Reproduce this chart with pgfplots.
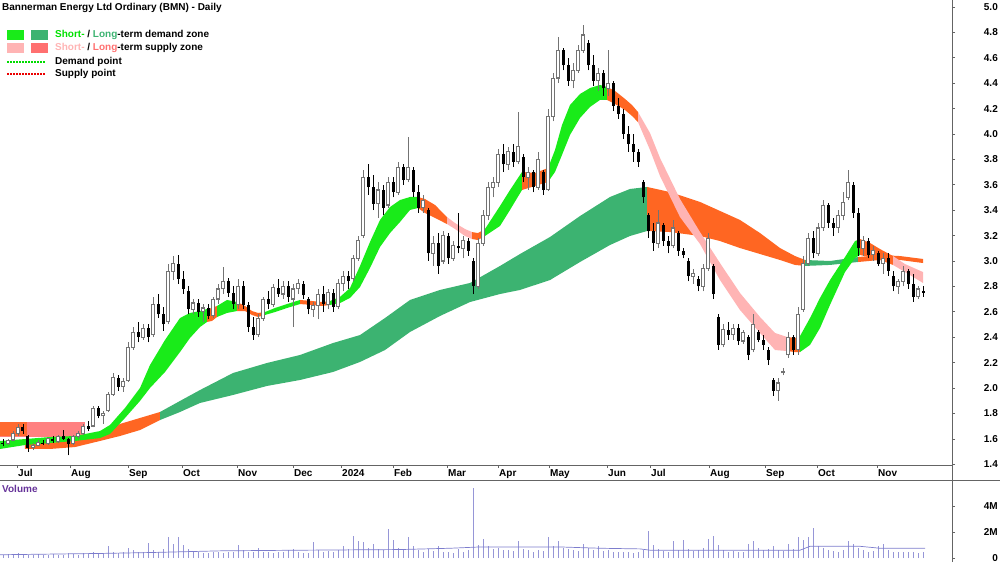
\documentclass[border=0pt]{standalone}
\usepackage{pgfplots}
\pgfplotsset{compat=1.18}
\usepackage{pgfplotstable}
\usepackage{fontspec}
\setmainfont{Liberation Sans}
\definecolor{sdem}{RGB}{25,235,25}
\definecolor{sdemtxt}{RGB}{0,225,0}
\definecolor{ldem}{RGB}{60,179,113}
\definecolor{ssup}{RGB}{255,180,180}
\definecolor{lsup}{RGB}{255,112,112}
\definecolor{salm}{RGB}{255,128,128}
\definecolor{orng}{RGB}{255,102,34}
\definecolor{axgray}{RGB}{100,100,100}
\definecolor{wick}{RGB}{115,115,115}
\definecolor{volcol}{RGB}{150,150,215}
\definecolor{volavg}{RGB}{125,125,205}
\definecolor{volpurple}{RGB}{102,51,153}
\definecolor{dempt}{RGB}{0,220,0}
\definecolor{suppt}{RGB}{235,0,0}

\pgfplotstableread{
x o h l c v
3 1.57 1.60 1.54 1.56 0.25
8 1.56 1.60 1.55 1.59 0.30
13 1.59 1.66 1.58 1.64 0.20
18 1.64 1.72 1.62 1.69 0.35
23 1.69 1.72 1.64 1.66 0.30
28 1.62 1.63 1.50 1.53 0.25
33 1.53 1.57 1.51 1.55 0.20
38 1.55 1.59 1.54 1.57 0.30
43 1.57 1.59 1.55 1.56 0.25
48 1.56 1.61 1.55 1.60 0.20
53 1.60 1.62 1.57 1.58 0.30
58 1.58 1.63 1.57 1.62 0.25
63 1.62 1.67 1.59 1.60 0.20
68 1.60 1.61 1.47 1.56 0.35
73 1.56 1.63 1.55 1.62 0.30
78 1.62 1.66 1.60 1.64 0.25
83 1.64 1.72 1.63 1.70 0.40
88 1.70 1.74 1.66 1.68 0.30
93 1.70 1.86 1.69 1.84 0.50
98 1.84 1.86 1.76 1.78 0.35
103 1.78 1.82 1.72 1.80 0.40
108 1.82 1.97 1.81 1.95 0.90
113 1.95 2.12 1.94 2.08 0.50
118 2.08 2.10 1.98 2.01 0.40
123 2.01 2.08 1.97 2.05 0.45
128 2.06 2.36 2.05 2.32 0.80
133 2.32 2.48 2.30 2.44 0.60
138 2.44 2.52 2.36 2.40 0.50
143 2.40 2.50 2.38 2.47 0.45
148 2.47 2.50 2.36 2.40 1.15
153 2.42 2.72 2.40 2.66 0.60
158 2.66 2.74 2.55 2.58 0.50
163 2.58 2.64 2.45 2.50 0.70
168 2.52 2.98 2.50 2.92 1.60
173 2.92 3.04 2.85 2.98 1.10
178 2.98 3.05 2.82 2.86 1.60
183 2.86 2.92 2.74 2.78 1.00
188 2.76 2.80 2.58 2.62 0.70
193 2.62 2.70 2.58 2.67 0.50
198 2.67 2.70 2.56 2.60 0.45
203 2.60 2.66 2.52 2.63 0.40
208 2.63 2.66 2.54 2.57 0.35
213 2.57 2.72 2.55 2.70 0.50
218 2.70 2.82 2.66 2.78 0.45
223 2.78 2.95 2.74 2.84 0.40
228 2.84 2.87 2.72 2.75 0.50
233 2.75 2.80 2.62 2.66 0.45
238 2.66 2.86 2.62 2.80 1.00
243 2.80 2.84 2.62 2.65 0.60
248 2.65 2.68 2.44 2.48 0.50
253 2.48 2.56 2.38 2.42 0.45
258 2.42 2.58 2.40 2.55 0.75
263 2.55 2.72 2.53 2.70 0.50
268 2.70 2.76 2.62 2.66 0.45
273 2.66 2.82 2.64 2.79 0.40
278 2.79 2.86 2.72 2.74 0.50
283 2.74 2.84 2.70 2.80 0.45
288 2.80 2.84 2.68 2.72 0.60
293 2.70 2.82 2.48 2.78 0.70
298 2.78 2.86 2.74 2.82 0.50
303 2.82 2.84 2.70 2.73 0.40
308 2.70 2.72 2.58 2.62 0.35
313 2.62 2.68 2.56 2.65 1.20
318 2.65 2.78 2.54 2.74 0.60
323 2.74 2.80 2.60 2.66 0.50
328 2.66 2.78 2.62 2.75 0.55
333 2.75 2.78 2.60 2.64 0.45
338 2.64 2.86 2.62 2.82 0.60
343 2.82 2.92 2.76 2.88 0.90
348 2.88 2.92 2.78 2.84 0.70
353 2.86 3.05 2.84 3.02 1.70
358 3.02 3.20 3.00 3.16 1.30
363 3.20 3.72 3.18 3.66 1.20
368 3.66 3.76 3.52 3.58 0.80
373 3.58 3.68 3.40 3.45 1.10
378 3.45 3.62 3.34 3.56 0.70
383 3.56 3.60 3.36 3.42 0.60
388 3.44 3.66 3.42 3.62 2.20
393 3.62 3.66 3.50 3.54 1.40
398 3.54 3.78 3.52 3.74 0.80
403 3.74 3.76 3.60 3.64 0.60
408 3.64 3.98 3.62 3.74 1.60
413 3.72 3.74 3.50 3.54 0.90
418 3.54 3.60 3.38 3.42 0.60
423 3.42 3.52 3.38 3.48 0.50
428 3.40 3.42 3.00 3.06 0.70
433 3.06 3.20 2.96 3.14 0.55
438 3.14 3.22 2.90 2.96 0.90
443 3.00 3.24 2.98 3.20 0.50
448 3.20 3.22 2.98 3.02 0.45
453 3.02 3.16 3.00 3.12 0.40
458 3.12 3.38 3.06 3.10 0.70
463 3.10 3.20 3.02 3.16 0.50
468 3.16 3.18 3.04 3.08 0.60
473 3.00 3.02 2.74 2.80 5.40
478 2.80 3.18 2.78 3.14 1.00
483 3.14 3.40 3.12 3.36 1.45
488 3.36 3.62 3.32 3.58 0.90
493 3.58 3.66 3.50 3.62 0.70
498 3.62 3.88 3.58 3.84 0.80
503 3.84 3.92 3.70 3.76 0.60
508 3.76 3.90 3.72 3.86 0.65
513 3.86 3.92 3.74 3.78 0.55
518 3.78 4.17 3.76 3.90 1.30
523 3.82 3.84 3.62 3.66 0.70
528 3.66 3.74 3.56 3.70 0.60
533 3.70 3.72 3.54 3.58 0.50
538 3.58 3.86 3.56 3.80 0.65
543 3.70 3.72 3.52 3.56 0.55
548 3.56 4.20 3.55 4.14 1.60
553 4.14 4.48 4.10 4.44 0.90
558 4.44 4.76 4.40 4.66 1.30
563 4.66 4.68 4.50 4.54 0.80
568 4.54 4.60 4.38 4.42 0.70
573 4.42 4.56 4.36 4.50 0.60
578 4.50 4.70 4.48 4.66 0.55
583 4.66 4.86 4.64 4.78 1.10
588 4.72 4.74 4.50 4.54 0.80
593 4.54 4.62 4.38 4.42 0.60
598 4.42 4.52 4.34 4.48 0.90
603 4.48 4.50 4.30 4.36 0.55
608 4.36 4.66 4.30 4.40 0.60
613 4.40 4.42 4.18 4.22 0.50
618 4.22 4.28 4.12 4.16 0.45
623 4.16 4.20 3.96 4.00 0.50
628 4.00 4.06 3.86 3.92 0.45
633 3.92 4.00 3.78 3.86 0.40
638 3.86 3.88 3.74 3.78 0.50
643 3.62 3.64 3.46 3.50 0.60
648 3.36 3.38 3.18 3.24 2.10
653 3.24 3.30 3.08 3.14 1.00
658 3.14 3.40 3.10 3.30 0.70
663 3.28 3.30 3.12 3.16 0.55
668 3.16 3.20 3.06 3.12 0.50
673 3.12 3.32 3.10 3.26 1.30
678 3.22 3.24 3.04 3.08 0.60
683 3.08 3.10 3.02 3.05 1.40
688 3.00 3.02 2.84 2.88 0.70
693 2.88 2.94 2.82 2.90 0.55
698 2.86 2.88 2.76 2.80 0.60
703 2.80 2.98 2.76 2.94 0.80
708 2.94 3.22 2.92 3.18 1.50
713 2.96 2.98 2.70 2.74 1.70
718 2.56 2.58 2.30 2.34 1.00
723 2.34 2.50 2.32 2.46 0.60
728 2.46 2.52 2.38 2.42 0.50
733 2.42 2.50 2.38 2.47 0.55
738 2.47 2.50 2.34 2.37 0.45
743 2.37 2.46 2.35 2.44 0.50
748 2.40 2.42 2.22 2.26 1.10
753 2.30 2.58 2.28 2.50 1.30
758 2.44 2.46 2.36 2.38 0.80
763 2.38 2.42 2.30 2.34 0.60
768 2.30 2.32 2.18 2.22 0.70
773 2.06 2.08 1.94 1.98 0.90
778 1.98 2.08 1.90 2.04 0.60
783 2.12 2.16 2.10 2.13 0.55
788 2.26 2.44 2.24 2.40 1.10
793 2.40 2.42 2.26 2.30 0.70
798 2.30 2.64 2.26 2.58 1.60
803 2.62 3.04 2.60 2.98 1.40
808 2.98 3.22 2.96 3.18 1.60
813 3.18 3.24 3.02 3.06 2.30
818 3.06 3.30 3.04 3.26 0.90
823 3.26 3.48 3.24 3.44 0.80
828 3.44 3.46 3.26 3.30 0.60
833 3.30 3.34 3.20 3.26 0.55
838 3.26 3.40 3.22 3.36 0.50
843 3.36 3.54 3.32 3.46 0.60
848 3.50 3.72 3.48 3.62 1.30
853 3.60 3.62 3.34 3.38 1.10
858 3.38 3.42 3.04 3.10 0.80
863 3.10 3.20 3.04 3.16 0.60
868 3.16 3.18 3.02 3.05 0.50
873 3.05 3.12 3.00 3.08 0.55
878 3.06 3.08 2.96 2.98 0.90
883 2.98 3.06 2.90 3.02 1.10
888 3.02 3.06 2.88 2.92 0.60
893 2.88 2.92 2.76 2.80 0.50
898 2.80 2.86 2.74 2.84 0.45
903 2.84 2.96 2.80 2.92 0.50
908 2.92 2.94 2.78 2.82 0.45
913 2.82 2.90 2.68 2.72 0.50
918 2.72 2.80 2.70 2.78 0.40
923 2.76 2.80 2.72 2.75 0.50
}\candles

\begin{document}
\begin{tikzpicture}[font=\bfseries\fontsize{10}{12}\selectfont]
\useasboundingbox (0,0) rectangle (1000pt,562pt);
\begin{axis}[
  at={(0pt,97pt)}, anchor=south west, scale only axis,
  width=952pt, height=465pt,
  xmin=0, xmax=952, ymin=1.3937, ymax=5.0551,
  axis y line*=right, axis x line*=bottom,
  axis line style={-, draw=axgray, line width=0.8pt},
  tick style={draw=axgray, line width=0.6pt},
  major tick length=3pt, tick align=outside,
  xtick={17,70,128,182,237,293,341,393,447,498,549,607,650,709,765,817,877},
  xticklabels={Jul,Aug,Sep,Oct,Nov,Dec,2024,Feb,Mar,Apr,May,Jun,Jul,Aug,Sep,Oct,Nov},
  xticklabel style={anchor=north west, inner sep=0pt, yshift=-1pt, xshift=1pt},
  ytick={1.4,1.6,1.8,2.0,2.2,2.4,2.6,2.8,3.0,3.2,3.4,3.6,3.8,4.0,4.2,4.4,4.6,4.8,5.0},
  yticklabels={1.4,1.6,1.8,2.0,2.2,2.4,2.6,2.8,3.0,3.2,3.4,3.6,3.8,4.0,4.2,4.4,4.6,4.8,5.0},
  yticklabel style={anchor=east, inner sep=0pt, xshift=43pt},
  every tick label/.append style={font=\bfseries\fontsize{10}{12}\selectfont},
]
% early supply block
\addplot[fill=salm, draw=none] coordinates {(0,1.732)(85,1.732)(85,1.614)(0,1.614)} -- cycle;
\addplot[fill=orng!85!salm, draw=none] coordinates {(0,1.732)(27,1.732)(27,1.622)(0,1.622)} -- cycle;
% long-term band
\addplot[fill=orng, draw=none] coordinates {(25,1.567)(50,1.567)(75,1.591)(100,1.646)(120,1.717)(140,1.764)(160,1.811)(160,1.748)(140,1.669)(120,1.622)(100,1.583)(75,1.535)(50,1.520)(25,1.520)} -- cycle;
\addplot[fill=ldem, draw=none] coordinates {(160,1.811)(180,1.898)(200,1.984)(233,2.118)(267,2.197)(300,2.260)(333,2.354)(360,2.417)(385,2.551)(410,2.693)(440,2.772)(470,2.827)(500,2.961)(520,3.055)(550,3.189)(580,3.354)(610,3.504)(630,3.567)(647,3.583)(647,3.236)(630,3.197)(610,3.126)(580,2.992)(550,2.850)(520,2.772)(500,2.740)(470,2.677)(440,2.567)(410,2.441)(385,2.299)(360,2.205)(333,2.126)(300,2.063)(267,2.016)(233,1.945)(200,1.882)(180,1.811)(160,1.748)} -- cycle;
\addplot[fill=orng, draw=none] coordinates {(647,3.583)(670,3.543)(700,3.465)(720,3.394)(740,3.323)(760,3.220)(780,3.102)(795,3.039)(805,3.008)(805,2.961)(795,2.969)(780,3.008)(760,3.055)(740,3.102)(720,3.157)(700,3.197)(670,3.228)(647,3.236)} -- cycle;
\addplot[fill=ldem, draw=none] coordinates {(805,3.008)(830,3.000)(858,3.031)(858,2.992)(830,2.969)(805,2.961)} -- cycle;
\addplot[fill=orng, draw=none] coordinates {(858,3.031)(880,3.047)(900,3.039)(923,3.016)(923,2.984)(900,3.008)(880,3.008)(858,2.992)} -- cycle;
% short-term band
\addplot[fill=sdem, draw=none] coordinates {(0,1.583)(25,1.598)(50,1.614)(75,1.622)(100,1.661)(110,1.709)(125,1.843)(140,2.000)(150,2.181)(165,2.378)(180,2.551)(190,2.591)(200,2.606)(207,2.622)(207,2.520)(200,2.480)(190,2.394)(180,2.283)(165,2.126)(150,2.000)(140,1.898)(125,1.764)(110,1.638)(100,1.606)(75,1.583)(50,1.567)(25,1.551)(0,1.520)} -- cycle;
\addplot[fill=orng, draw=none] coordinates {(207,2.622)(212,2.630)(217,2.646)(217,2.559)(212,2.528)(207,2.520)} -- cycle;
\addplot[fill=sdem, draw=none] coordinates {(217,2.646)(227,2.693)(237,2.677)(237,2.606)(227,2.591)(217,2.559)} -- cycle;
\addplot[fill=orng, draw=none] coordinates {(237,2.677)(245,2.646)(252,2.606)(258,2.591)(265,2.598)(265,2.575)(258,2.559)(252,2.575)(245,2.606)(237,2.606)} -- cycle;
\addplot[fill=sdem, draw=none] coordinates {(265,2.598)(275,2.630)(287,2.661)(300,2.693)(300,2.661)(287,2.630)(275,2.598)(265,2.575)} -- cycle;
\addplot[fill=orng, draw=none] coordinates {(300,2.693)(312,2.685)(322,2.677)(330,2.685)(330,2.654)(322,2.646)(312,2.654)(300,2.661)} -- cycle;
\addplot[fill=sdem, draw=none] coordinates {(330,2.685)(340,2.717)(350,2.787)(360,2.961)(370,3.150)(380,3.323)(390,3.425)(400,3.480)(410,3.504)(418,3.504)(418,3.417)(410,3.402)(400,3.307)(390,3.220)(380,3.110)(370,2.945)(360,2.795)(350,2.709)(340,2.669)(330,2.654)} -- cycle;
\addplot[fill=orng, draw=none] coordinates {(418,3.504)(425,3.488)(435,3.441)(447,3.346)(447,3.291)(435,3.339)(425,3.378)(418,3.417)} -- cycle;
\addplot[fill=ssup, draw=none] coordinates {(447,3.346)(455,3.299)(465,3.252)(472,3.228)(472,3.173)(465,3.197)(455,3.252)(447,3.291)} -- cycle;
\addplot[fill=orng, draw=none] coordinates {(472,3.228)(478,3.220)(485,3.252)(485,3.197)(478,3.165)(472,3.173)} -- cycle;
\addplot[fill=sdem, draw=none] coordinates {(485,3.252)(500,3.433)(510,3.559)(522,3.701)(522,3.559)(510,3.402)(500,3.276)(485,3.197)} -- cycle;
\addplot[fill=orng, draw=none] coordinates {(522,3.701)(535,3.693)(548,3.732)(548,3.622)(535,3.591)(522,3.559)} -- cycle;
\addplot[fill=sdem, draw=none] coordinates {(548,3.732)(555,3.874)(562,4.071)(570,4.228)(580,4.315)(590,4.362)(600,4.386)(607,4.370)(607,4.268)(600,4.268)(590,4.213)(580,4.126)(570,3.992)(562,3.835)(555,3.701)(548,3.622)} -- cycle;
\addplot[fill=orng, draw=none] coordinates {(607,4.370)(615,4.339)(625,4.276)(632,4.228)(638,4.173)(638,4.094)(632,4.142)(625,4.189)(615,4.236)(607,4.268)} -- cycle;
\addplot[fill=ssup, draw=none] coordinates {(638,4.173)(650,4.008)(660,3.811)(680,3.488)(700,3.228)(720,2.984)(740,2.748)(760,2.559)(775,2.433)(787,2.402)(787,2.291)(775,2.299)(760,2.433)(740,2.614)(720,2.850)(700,3.134)(680,3.346)(660,3.669)(650,3.874)(638,4.094)} -- cycle;
\addplot[fill=orng, draw=none] coordinates {(787,2.402)(795,2.394)(800,2.409)(800,2.283)(795,2.283)(787,2.291)} -- cycle;
\addplot[fill=sdem, draw=none] coordinates {(800,2.409)(810,2.551)(820,2.709)(830,2.850)(845,3.031)(855,3.157)(860,3.173)(860,3.047)(855,3.024)(845,2.913)(830,2.654)(820,2.472)(810,2.339)(800,2.283)} -- cycle;
\addplot[fill=orng, draw=none] coordinates {(860,3.173)(870,3.142)(880,3.094)(893,3.039)(893,2.969)(880,3.008)(870,3.031)(860,3.047)} -- cycle;
\addplot[fill=ssup, draw=none] coordinates {(893,3.039)(905,2.976)(923,2.913)(923,2.827)(905,2.913)(893,2.969)} -- cycle;
% candles: wicks
\addplot[draw=none, mark=none, error bars/.cd, y dir=plus, y explicit, error mark=none,
  error bar style={draw=wick, line width=0.7pt}]
  table[x=x, y expr={\thisrow{c}>=\thisrow{o} ? \thisrow{l} : nan}, y error plus expr={\thisrow{h}-\thisrow{l}}] {\candles};
\addplot[draw=none, mark=none, error bars/.cd, y dir=plus, y explicit, error mark=none,
  error bar style={draw=black, line width=0.7pt}]
  table[x=x, y expr={\thisrow{c}<\thisrow{o} ? \thisrow{l} : nan}, y error plus expr={\thisrow{h}-\thisrow{l}}] {\candles};
% up bodies: grey outline, white inside
\addplot[draw=none, mark=none, error bars/.cd, y dir=plus, y explicit, error mark=none,
  error bar style={draw=wick, line width=3.4pt}]
  table[x=x, y expr={\thisrow{c}>=\thisrow{o} ? \thisrow{o}-0.004 : nan}, y error plus expr={\thisrow{c}-\thisrow{o}+0.008}] {\candles};
\addplot[draw=none, mark=none, error bars/.cd, y dir=plus, y explicit, error mark=none,
  error bar style={draw=white, line width=1.6pt}]
  table[x=x, y expr={\thisrow{c}>=\thisrow{o} ? \thisrow{o}+0.005 : nan}, y error plus expr={max(\thisrow{c}-\thisrow{o}-0.010,0)}] {\candles};
% down bodies
\addplot[draw=none, mark=none, error bars/.cd, y dir=plus, y explicit, error mark=none,
  error bar style={draw=black, line width=3.0pt}]
  table[x=x, y expr={\thisrow{c}<\thisrow{o} ? \thisrow{c} : nan}, y error plus expr={\thisrow{o}-\thisrow{c}}] {\candles};
\end{axis}

\begin{axis}[
  at={(0pt,4pt)}, anchor=south west, scale only axis,
  width=952pt, height=78pt,
  xmin=0, xmax=952, ymin=0, ymax=6,
  axis y line*=right, axis x line=none,
  axis line style={-, draw=axgray, line width=0.8pt},
  tick style={draw=axgray, line width=0.6pt},
  major tick length=3pt, tick align=outside,
  ytick={0,2,4}, yticklabels={0,2M,4M},
  yticklabel style={anchor=east, inner sep=0pt, xshift=43pt},
  every tick label/.append style={font=\bfseries\fontsize{10}{12}\selectfont},
]
\addplot[ycomb, draw=volcol, line width=1pt] table[x=x, y=v] {\candles};
\addplot[draw=volavg, line width=0.7pt] coordinates {(0,0.25)(50,0.3)(100,0.35)(150,0.42)(220,0.55)(300,0.6)(400,0.65)(450,0.75)(480,0.85)(560,0.85)(600,0.75)(640,0.7)(650,0.6)(800,0.6)(810,0.9)(860,0.9)(880,0.75)(925,0.75)};
\end{axis}

\draw[axgray, line width=0.8pt] (952pt,0pt) -- (952pt,562pt);
\draw[axgray, line width=0.8pt] (0pt,82pt) -- (1000pt,82pt);
\node[anchor=west, inner sep=0pt, text=volpurple] at (2pt,73pt) {Volume};

\node[anchor=west, inner sep=0pt] at (2pt,554pt) {Bannerman Energy Ltd Ordinary (BMN) - Daily};
\fill[sdem] (7pt,522pt) rectangle (24pt,532pt);
\fill[ldem] (31pt,522pt) rectangle (48pt,532pt);
\node[anchor=west, inner sep=0pt] at (55pt,527pt) {\textcolor{sdemtxt}{Short-} / \textcolor{ldem}{Long}-term demand zone};
\fill[ssup] (7pt,509pt) rectangle (24pt,519pt);
\fill[lsup] (31pt,509pt) rectangle (48pt,519pt);
\node[anchor=west, inner sep=0pt] at (55pt,514pt) {\textcolor{ssup}{Short-} / \textcolor{lsup}{Long}-term supply zone};
\draw[dempt, line width=2pt, dash pattern=on 1.5pt off 1.5pt] (7pt,500pt) -- (45pt,500pt);
\node[anchor=west, inner sep=0pt] at (55pt,500pt) {Demand point};
\draw[suppt, line width=2pt, dash pattern=on 1.5pt off 1.5pt] (7pt,488pt) -- (45pt,488pt);
\node[anchor=west, inner sep=0pt] at (55pt,488pt) {Supply point};
\end{tikzpicture}
\end{document}
